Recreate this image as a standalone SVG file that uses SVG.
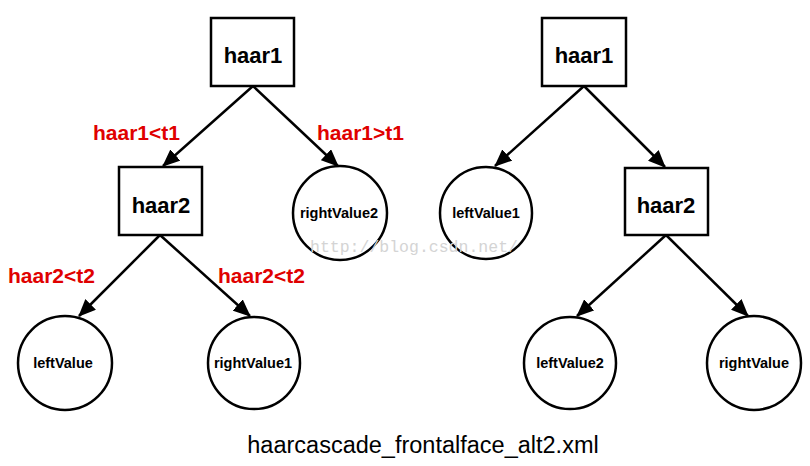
<svg xmlns="http://www.w3.org/2000/svg" width="810" height="466" viewBox="0 0 810 466">
<style>
.box{fill:#fff;stroke:#000;stroke-width:2.5}
.circ{fill:#fff;stroke:#000;stroke-width:2.5}
.big{font-family:"Liberation Sans",Arial,sans-serif;font-weight:bold;font-size:22px;fill:#000;text-anchor:middle}
.small{font-family:"Liberation Sans",Arial,sans-serif;font-weight:bold;font-size:14.5px;fill:#000;text-anchor:middle}
.lbl{font-family:"Liberation Sans",Arial,sans-serif;font-weight:bold;font-size:21px;fill:#e00000}
.edge{stroke:#000;stroke-width:2.5;fill:none;marker-end:url(#ah)}
.cap{font-family:"Liberation Sans",Arial,sans-serif;font-size:23.5px;fill:#000;text-anchor:middle}
.wm{font-family:"Liberation Mono","DejaVu Sans Mono",monospace;font-size:16.5px;fill:#d4d4d4}
</style>
<defs>
<marker id="ah" markerWidth="7" markerHeight="6" refX="6.6" refY="3" orient="auto" markerUnits="strokeWidth">
<path d="M0,0 L7,3 L0,6 Z" fill="#000"/>
</marker>
</defs>
<rect width="810" height="466" fill="#fff"/>
<g id="connectors">
<line class="edge" x1="253" y1="86" x2="163" y2="166"/>
<line class="edge" x1="253" y1="86" x2="338" y2="166"/>
<line class="edge" x1="160" y1="235" x2="79" y2="316"/>
<line class="edge" x1="160" y1="235" x2="250" y2="316"/>
<line class="edge" x1="584" y1="86" x2="495" y2="166"/>
<line class="edge" x1="584" y1="86" x2="665" y2="167"/>
<line class="edge" x1="666" y1="235" x2="577" y2="316"/>
<line class="edge" x1="666" y1="235" x2="748" y2="316"/>
</g>
<g id="labels">
<text class="lbl" x="93" y="140">haar1&lt;t1</text>
<text class="lbl" x="317" y="140">haar1&gt;t1</text>
<text class="lbl" x="8" y="283">haar2&lt;t2</text>
<text class="lbl" x="218" y="283">haar2&lt;t2</text>
</g>
<g id="L_haar1"><rect class="box" x="211" y="18" width="83" height="68"/><text class="big" x="253" y="63">haar1</text></g>
<g id="L_haar2"><rect class="box" x="119" y="167" width="83" height="68"/><text class="big" x="161" y="213">haar2</text></g>
<g id="L_rightValue2"><circle class="circ" cx="340" cy="213" r="47"/><text class="small" x="339" y="218">rightValue2</text></g>
<g id="L_leftValue"><circle class="circ" cx="65" cy="363" r="47"/><text class="small" x="63" y="368">leftValue</text></g>
<g id="L_rightValue1"><circle class="circ" cx="254" cy="363" r="46"/><text class="small" x="253" y="368">rightValue1</text></g>
<g id="R_haar1"><rect class="box" x="542" y="18" width="84" height="68"/><text class="big" x="584" y="63">haar1</text></g>
<g id="R_leftValue1"><circle class="circ" cx="486" cy="213" r="46"/><text class="small" x="486" y="218">leftValue1</text></g>
<g id="R_haar2"><rect class="box" x="625" y="168" width="83" height="67"/><text class="big" x="666" y="213">haar2</text></g>
<g id="R_leftValue2"><circle class="circ" cx="570" cy="363" r="46"/><text class="small" x="570" y="368">leftValue2</text></g>
<g id="R_rightValue"><circle class="circ" cx="754" cy="363" r="47"/><text class="small" x="754" y="368">rightValue</text></g>
<text class="wm" x="310" y="252">http://blog.csdn.net/</text>
<text class="cap" x="423" y="453">haarcascade_frontalface_alt2.xml</text>
</svg>
